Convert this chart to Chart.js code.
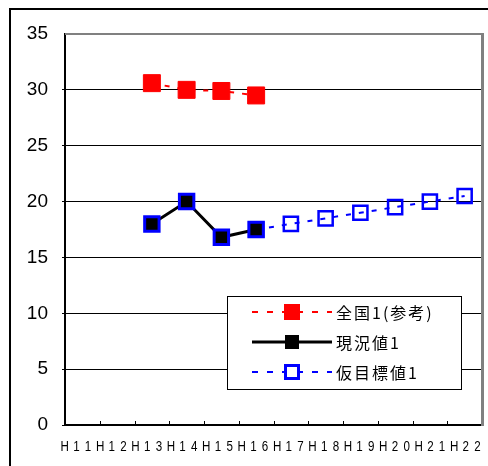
<!DOCTYPE html>
<html>
<head>
<meta charset="utf-8">
<script src="https://cdn.jsdelivr.net/npm/chart.js@4/dist/chart.umd.min.js"></script>
<style>
  html, body { margin: 0; padding: 0; background: #fff; overflow: hidden; }
  #wrap { position: relative; width: 488px; height: 466px; }
  #frame { position: absolute; left: 9px; top: 8px; width: 600px; height: 600px;
           border-left: 2px solid #000; border-top: 2px solid #000; }
  #chart { position: absolute; left: 0; top: 0; }
</style>
</head>
<body>
<div id="wrap">
  <div id="frame"></div>
  <canvas id="chart" width="488" height="466"></canvas>
</div>
<script>
// Fiscal years (Heisei)
const years = ['H11', 'H12', 'H13', 'H14', 'H15', 'H16', 'H17', 'H18', 'H19', 'H20', 'H21', 'H22'];
// 全国1(参考)
const nationalValues = [null, null, 30.6, 30.0, 29.9, 29.5, null, null, null, null, null, null];
// 現況値1
const currentValues = [null, null, 18.0, 20.0, 16.8, 17.5, null, null, null, null, null, null];
// 仮目標値1
const targetValues = [null, null, null, null, null, 17.5, 18.0, 18.5, 19.0, 19.5, 20.0, 20.5];
const yTicks = [0, 5, 10, 15, 20, 25, 30, 35];

const seriesNames = ['全国1(参考)', '現況値1', '仮目標値1'];

// Plot frame (grey top/right edges), small inward tick marks and
// the spaced, condensed year labels under the category axis
const frameAndTicks = {
  id: 'frameAndTicks',
  beforeDatasetsDraw(chart) {
    const { ctx, chartArea: a } = chart;
    const x = chart.scales.x;
    ctx.save();
    ctx.strokeStyle = '#808080';
    ctx.lineWidth = 2;
    ctx.beginPath();
    ctx.moveTo(a.left, a.top);
    ctx.lineTo(a.right, a.top);
    ctx.stroke();
    ctx.lineWidth = 3;
    ctx.beginPath();
    ctx.moveTo(a.right + 0.5, a.top - 1);
    ctx.lineTo(a.right + 0.5, a.bottom + 1);
    ctx.stroke();
    ctx.strokeStyle = '#000';
    ctx.lineWidth = 1;
    const n = years.length;
    for (let i = 1; i < n; i++) {
      const px = Math.round((x.getPixelForValue(i - 1) + x.getPixelForValue(i)) / 2) + 0.5;
      ctx.beginPath();
      ctx.moveTo(px, a.bottom);
      ctx.lineTo(px, a.bottom - 4);
      ctx.stroke();
    }

    // year labels: each character on its own slot, glyphs squeezed horizontally
    ctx.fillStyle = '#000';
    ctx.font = '14.5px "Liberation Sans", Arial, sans-serif';
    ctx.textAlign = 'center';
    ctx.textBaseline = 'alphabetic';
    const pitch = 11.7;
    years.forEach((label, i) => {
      const mid = x.getPixelForValue(i) - 6 + 0.65 * i;
      const chars = label.split('');
      chars.forEach((ch, j) => {
        const cx = mid + (j - (chars.length - 1) / 2) * pitch;
        ctx.save();
        ctx.translate(cx, a.bottom + 26);
        ctx.scale(0.8, 1);
        ctx.fillText(ch, 0, 0);
        ctx.restore();
      });
    });
    ctx.restore();
  }
};

// Boxed legend inside the plot: line sample with the marker in its middle
const boxLegend = {
  id: 'boxLegend',
  afterDatasetsDraw(chart) {
    const { ctx } = chart;
    const box = { x: 227.5, y: 296.5, w: 234, h: 93 };
    ctx.save();
    ctx.fillStyle = '#fff';
    ctx.fillRect(box.x, box.y, box.w, box.h);
    ctx.strokeStyle = '#000';
    ctx.lineWidth = 1;
    ctx.strokeRect(box.x, box.y, box.w, box.h);

    const rows = [312, 342, 372];
    const x0 = 252, x1 = 332, mx = 292;
    const styles = [
      { color: '#ff0000', dash: [6, 9], width: 2 },
      { color: '#000000', dash: [], width: 3 },
      { color: '#0000ff', dash: [6, 9], width: 2 }
    ];
    rows.forEach((y, i) => {
      const s = styles[i];
      ctx.strokeStyle = s.color;
      ctx.lineWidth = s.width;
      ctx.setLineDash(s.dash);
      ctx.beginPath();
      ctx.moveTo(x0, y);
      ctx.lineTo(x1, y);
      ctx.stroke();
      ctx.setLineDash([]);
      if (i === 0) {
        ctx.fillStyle = '#ff0000';
        ctx.fillRect(mx - 8, y - 8, 16, 16);
      } else if (i === 1) {
        ctx.fillStyle = '#000';
        ctx.fillRect(mx - 7, y - 7, 14, 14);
      } else {
        ctx.fillStyle = '#fff';
        ctx.fillRect(mx - 7, y - 7, 14, 14);
        ctx.strokeStyle = '#0000ff';
        ctx.lineWidth = 3;
        ctx.strokeRect(mx - 6.5, y - 6.5, 13, 13);
      }
      ctx.fillStyle = '#000';
      ctx.font = '16px "Noto Sans CJK JP", "Noto Sans", sans-serif';
      ctx.letterSpacing = '2px';
      ctx.textBaseline = 'middle';
      ctx.textAlign = 'left';
      ctx.fillText(seriesNames[i], 336, y + 1);
      ctx.letterSpacing = '0px';
    });
    ctx.restore();
  }
};

new Chart(document.getElementById('chart'), {
  type: 'line',
  data: {
    labels: years,
    datasets: [
      {
        label: seriesNames[0],
        data: nationalValues,
        borderColor: '#ff0000',
        borderWidth: 2,
        borderDash: [5, 8],
        pointStyle: 'rect',
        pointRadius: 12,
        pointBackgroundColor: '#ff0000',
        pointBorderColor: '#ff0000',
        pointBorderWidth: 1
      },
      {
        label: seriesNames[1],
        data: currentValues,
        borderColor: '#000000',
        borderWidth: 3,
        pointStyle: 'rect',
        pointRadius: 10.2,
        pointBackgroundColor: '#000000',
        pointBorderColor: '#0000ff',
        pointBorderWidth: 3
      },
      {
        label: seriesNames[2],
        data: targetValues,
        borderColor: '#0000ff',
        borderWidth: 2,
        borderDash: [5, 8],
        pointStyle: 'rect',
        pointRadius: 10,
        pointBackgroundColor: 'rgba(255,255,255,0)',
        pointBorderColor: '#0000ff',
        pointBorderWidth: 2.5
      }
    ]
  },
  options: {
    responsive: false,
    animation: false,
    devicePixelRatio: 1,
    layout: { autoPadding: false, padding: { left: 0, top: 34, right: 6, bottom: 0 } },
    plugins: {
      legend: { display: false },
      tooltip: { enabled: false }
    },
    scales: {
      x: {
        offset: true,
        grid: { display: false, drawTicks: false },
        border: { display: true, color: '#000', width: 2 },
        ticks: { display: false },
        afterFit(scale) { scale.height = 41; }
      },
      y: {
        min: 0,
        max: 35,
        afterBuildTicks(scale) { scale.ticks = yTicks.map(v => ({ value: v })); },
        grid: {
          drawTicks: true,
          tickLength: 3,
          color: ctx => (ctx.tick && ctx.tick.value === 35 ? 'rgba(0,0,0,0)' : '#000'),
          lineWidth: 1
        },
        border: { display: true, color: '#000', width: 2 },
        ticks: {
          color: '#000',
          padding: 14,
          font: { family: '"Liberation Sans", Arial, sans-serif', size: 19 }
        },
        afterFit(scale) { scale.width = 65; }
      }
    }
  },
  plugins: [frameAndTicks, boxLegend]
});
</script>
</body>
</html>
